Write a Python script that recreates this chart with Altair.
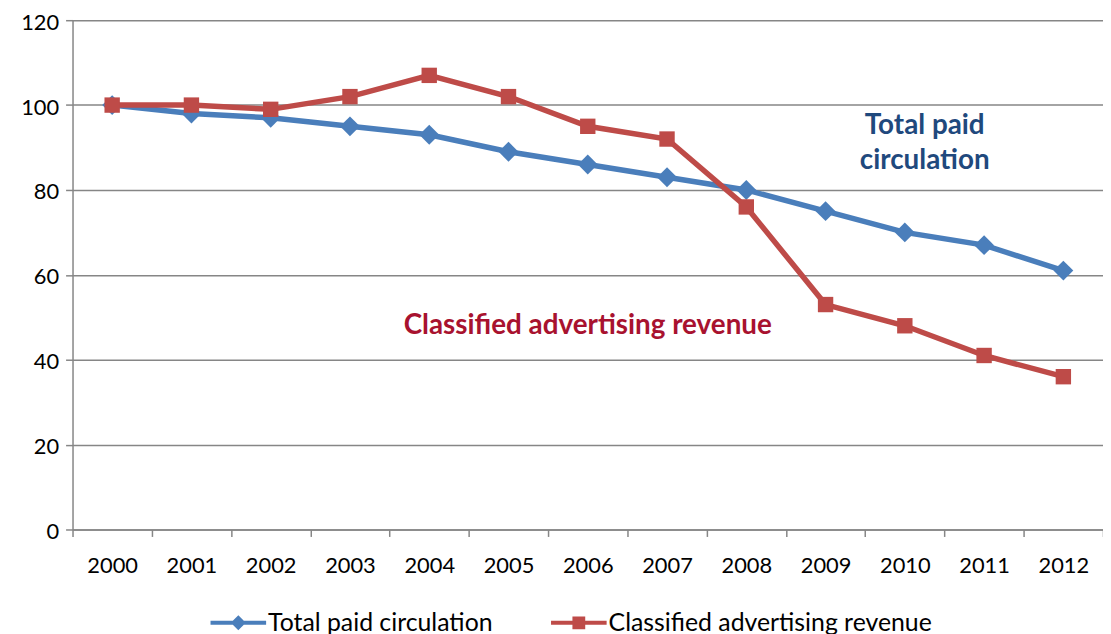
import altair as alt
import pandas as pd

years = ["2000", "2001", "2002", "2003", "2004", "2005", "2006",
         "2007", "2008", "2009", "2010", "2011", "2012"]
circulation = [100, 98, 97, 95, 93, 89, 86, 83, 80, 75, 70, 67, 61]
classified = [100, 100, 99, 102, 107, 102, 95, 92, 76, 53, 48, 41, 36]
series_names = ["Total paid circulation", "Classified advertising revenue"]
series_colors = ["#4A7EBB", "#BE4B48"]
y_ticks = [0, 20, 40, 60, 80, 100, 120]

rows = []
for y, v in zip(years, circulation):
    rows.append({"year": y, "value": v, "series": series_names[0]})
for y, v in zip(years, classified):
    rows.append({"year": y, "value": v, "series": series_names[1]})
df = pd.DataFrame(rows)

ann = pd.DataFrame([
    {"year": "2010", "value": 95, "label": ["Total paid", "circulation"], "who": "blue"},
    {"year": "2006", "value": 48, "label": ["Classified advertising revenue"], "who": "red"},
])

FONT = "Lato"

x_enc = alt.X("year:N", sort=years,
              scale=alt.Scale(domain=years, paddingInner=0, paddingOuter=0),
              axis=alt.Axis(title=None, labelAngle=0, tickBand="extent",
                            labelFontSize=22, labelFont=FONT, labelColor="#000000",
                            labelPadding=19, tickSize=7, tickColor="#868686",
                            domainColor="#868686", domainWidth=1.5, tickWidth=1.5,
                            grid=False))
y_enc = alt.Y("value:Q",
              scale=alt.Scale(domain=[0, 120], nice=False),
              axis=alt.Axis(title=None, values=y_ticks, labelFontSize=22, labelFont=FONT,
                            labelColor="#000000", labelPadding=7, labelOffset=2, tickSize=7,
                            tickColor="#868686", domainColor="#868686", domainWidth=1.5,
                            tickWidth=1.5, gridColor="#868686", gridWidth=1.5))

base = alt.Chart(df)

layers = []
markers = ["diamond", "square"]
msizes = [400, 240]
for name, col, shp, sz in zip(series_names, series_colors, markers, msizes):
    sub = base.transform_filter(alt.datum.series == name)
    layers.append(sub.mark_line(color=col, strokeWidth=5.5).encode(x=x_enc, y=y_enc))
    layers.append(sub.mark_point(shape=shp, filled=True, size=sz, opacity=1, color=col)
                  .encode(x=x_enc, y=y_enc))

# legend symbols: line with marker (custom path in unit space)
path_diamond = ("M-1,-0.07 L1,-0.07 L1,0.07 L-1,0.07 Z "
                "M0,-0.27 L0.27,0 L0,0.27 L-0.27,0 Z")
path_square = ("M-1,-0.07 L1,-0.07 L1,0.07 L-1,0.07 Z "
               "M-0.23,-0.23 L0.23,-0.23 L0.23,0.23 L-0.23,0.23 Z")

leg = alt.Legend(title=None, orient="none", direction="horizontal",
                 legendX=139, legendY=579, labelFont=FONT,
                 labelFontSize=25, labelColor="#000000", labelLimit=0,
                 symbolSize=3136, labelOffset=2, columnPadding=58,
                 symbolStrokeWidth=0, symbolOpacity=1)

legend_layer = base.transform_filter("false").mark_point(filled=True, opacity=1, size=3136).encode(
    x=x_enc, y=y_enc,
    color=alt.Color("series:N", scale=alt.Scale(domain=series_names, range=series_colors),
                    legend=leg),
    shape=alt.Shape("series:N", scale=alt.Scale(domain=series_names,
                                                range=[path_diamond, path_square]),
                    legend=leg),
)
layers.append(legend_layer)

ann_chart = alt.Chart(ann)
layers.append(ann_chart.transform_filter(alt.datum.who == "blue").mark_text(
    font=FONT, fontSize=28, fontWeight="bold", color="#1F497D", lineHeight=35, dx=20,
    baseline="middle").encode(x=x_enc, y=y_enc, text="label"))
layers.append(ann_chart.transform_filter(alt.datum.who == "red").mark_text(
    font=FONT, fontSize=28, fontWeight="bold", color="#A8122F", dx=0,
    baseline="middle").encode(x=x_enc, y=y_enc, text="label"))

chart = alt.layer(*layers).properties(
    width=1038, height=513,
    padding={"left": 65, "top": 10, "right": 0, "bottom": 105},
    autosize=alt.AutoSizeParams(type="none"),
    background="#ffffff",
).configure_view(stroke=None)

chart.save("out.html", embed_options={"renderer": "svg", "actions": False})
